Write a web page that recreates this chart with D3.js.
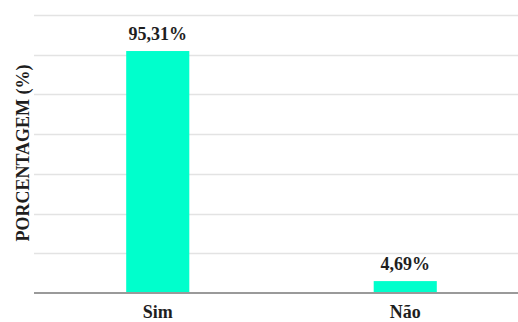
<!DOCTYPE html>
<html>
<head>
<meta charset="utf-8">
<script src="https://cdn.jsdelivr.net/npm/d3@7"></script>
<style>
  html, body { margin: 0; padding: 0; background: #fff; overflow: hidden; }
  text { font-family: "Liberation Serif", "Times New Roman", serif; font-weight: bold; fill: #1e1e1e; }
</style>
</head>
<body>
<svg id="chart" width="518" height="322"></svg>
<script>
// Survey answers and their shares (%)
const categories = ["Sim", "Não"];
const values = [95.31, 4.69];
const valueLabels = ["95,31%", "4,69%"];
const yTitle = "PORCENTAGEM (%)";
const gridSteps = 7;

const svg = d3.select("#chart");
const plotLeft = 34, plotRight = 529, plotTop = 15, plotBottom = 293;
const yMax = 109.5;
const fontSize = 18;

const x = d3.scaleBand().domain(categories).range([plotLeft, plotRight])
  .paddingInner(0.745).paddingOuter(0.3725);
const y = d3.scaleLinear().domain([0, yMax]).range([plotBottom, plotTop]);

// horizontal gridlines
const gridVals = d3.range(1, gridSteps + 1).map(i => yMax * i / gridSteps);
svg.append("g").selectAll("line").data(gridVals).join("line")
  .attr("x1", plotLeft).attr("x2", 518)
  .attr("y1", d => Math.round(y(d)) + 0.5).attr("y2", d => Math.round(y(d)) + 0.5)
  .attr("stroke", "#e3e3e3").attr("stroke-width", 1.5);

// bars
svg.append("g").selectAll("rect").data(values).join("rect")
  .attr("x", (d, i) => x(categories[i]))
  .attr("width", x.bandwidth())
  .attr("y", d => y(d))
  .attr("height", d => y(0) - y(d))
  .attr("fill", "#00ffcc");

// baseline and category labels
const xAxis = svg.append("g").attr("transform", `translate(0,${plotBottom})`)
  .call(d3.axisBottom(x).tickSize(0));
xAxis.select(".domain").attr("stroke", "#9a9a9a").attr("stroke-width", 2)
  .attr("d", `M${plotLeft},0H518`);
xAxis.selectAll("text").attr("y", 25).attr("dy", null).attr("font-size", fontSize)
  .style("font-family", "'Liberation Serif', serif").style("font-weight", "bold").attr("fill", "#1e1e1e");

// value labels
svg.append("g").selectAll("text").data(values).join("text")
  .attr("x", (d, i) => x(categories[i]) + x.bandwidth() / 2)
  .attr("y", d => y(d) - 11)
  .attr("text-anchor", "middle").attr("font-size", fontSize)
  .text((d, i) => valueLabels[i]);

// y title
svg.append("text")
  .attr("transform", `translate(29,153) rotate(-90)`)
  .attr("text-anchor", "middle").attr("font-size", fontSize)
  .text(yTitle);
</script>
</body>
</html>
